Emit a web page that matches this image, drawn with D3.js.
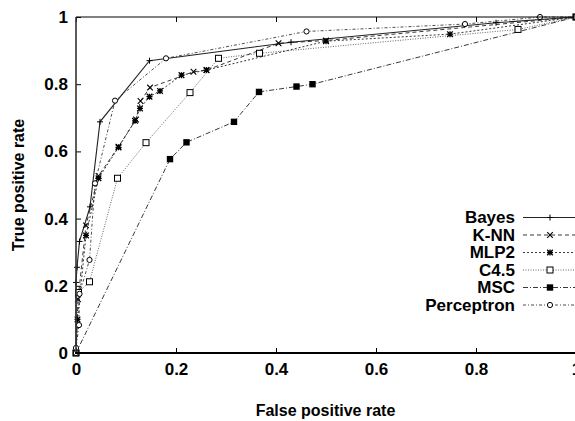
<!DOCTYPE html>
<html>
<head>
<meta charset="utf-8">
<script src="https://cdn.jsdelivr.net/npm/d3@7"></script>
<style>
body { margin: 0; background: #fff; }
svg { display: block; }
text { font-family: "Liberation Sans", Arial, Helvetica, sans-serif; font-weight: bold; fill: #000; }
</style>
</head>
<body>
<script>
// series values [false positive rate, true positive rate]
var bayes = [[0,0],[0,0.21],[0.002,0.255],[0.007,0.332],[0.028,0.435],[0.048,0.688],[0.147,0.87],[0.43,0.925],[0.84,0.983],[1,1]];
var knn = [[0,0],[0.004,0.16],[0.02,0.38],[0.045,0.527],[0.085,0.614],[0.12,0.695],[0.129,0.75],[0.148,0.79],[0.235,0.837],[0.261,0.842],[0.405,0.922],[0.5,0.93],[1,1]];
var mlp2 = [[0,0],[0.003,0.1],[0.02,0.35],[0.045,0.52],[0.085,0.612],[0.118,0.691],[0.128,0.728],[0.147,0.763],[0.168,0.78],[0.211,0.827],[0.261,0.842],[0.5,0.928],[0.748,0.949],[1,1]];
var c45 = [[0,0],[0.005,0.18],[0.027,0.212],[0.083,0.52],[0.14,0.626],[0.228,0.775],[0.285,0.877],[0.367,0.892],[0.884,0.963],[1,1]];
var msc = [[0,0],[0.188,0.577],[0.221,0.627],[0.316,0.688],[0.366,0.777],[0.441,0.793],[0.473,0.8],[1,1]];
var perceptron = [[0,0],[0,0.015],[0.006,0.083],[0.007,0.176],[0.027,0.277],[0.038,0.505],[0.078,0.751],[0.18,0.877],[0.461,0.957],[0.778,0.979],[0.928,1],[1,1]];

var seriesNames = ["Bayes", "K-NN", "MLP2", "C4.5", "MSC", "Perceptron"];
var xTicks = [0, 0.2, 0.4, 0.6, 0.8, 1];
var yTicks = [0, 0.2, 0.4, 0.6, 0.8, 1];

var width = 575, height = 421;
var plotLeft = 76, plotRight = 576, plotTop = 17, plotBottom = 353;

var svg = d3.select("body").append("svg").attr("width", width).attr("height", height);

var x = d3.scaleLinear().domain([0, 1]).range([plotLeft, plotRight]);
var y = d3.scaleLinear().domain([0, 1]).range([plotBottom, plotTop]);

var lineColor = "#222";

//line styles for each series
var styles = [
	{ data: bayes, dash: null, marker: "plus", w: 1.1 },
	{ data: knn, dash: "4,3", marker: "cross", w: 0.9 },
	{ data: mlp2, dash: "2,2", marker: "star", w: 0.9 },
	{ data: c45, dash: "1,1.5", marker: "square", w: 0.7 },
	{ data: msc, dash: "5,2,1,2", marker: "fsquare", w: 0.9 },
	{ data: perceptron, dash: "3,2,1,2", marker: "circle", w: 0.8 }
];

function drawMarker(g, type, px, py) {
	if (type == "plus") {
		g.append("path").attr("d", "M" + (px - 3) + "," + py + "h6M" + px + "," + (py - 3) + "v6")
			.attr("stroke", "#000").attr("stroke-width", 1);
	} else if (type == "cross") {
		g.append("path").attr("d", "M" + (px - 2.8) + "," + (py - 2.8) + "l5.6,5.6M" + (px - 2.8) + "," + (py + 2.8) + "l5.6,-5.6")
			.attr("stroke", "#000").attr("stroke-width", 1.1);
	} else if (type == "star") {
		g.append("path").attr("d", "M" + (px - 2.8) + "," + (py - 2.8) + "l5.6,5.6M" + (px - 2.8) + "," + (py + 2.8) + "l5.6,-5.6M" + (px - 3) + "," + py + "h6M" + px + "," + (py - 3) + "v6")
			.attr("stroke", "#000").attr("stroke-width", 1.3);
	} else if (type == "square") {
		g.append("rect").attr("x", px - 3).attr("y", py - 3).attr("width", 6).attr("height", 6)
			.attr("fill", "#fff").attr("stroke", "#000").attr("stroke-width", 1);
	} else if (type == "fsquare") {
		g.append("rect").attr("x", px - 3.2).attr("y", py - 3.2).attr("width", 6.4).attr("height", 6.4)
			.attr("fill", "#000");
	} else if (type == "circle") {
		g.append("circle").attr("cx", px).attr("cy", py).attr("r", 2.6)
			.attr("fill", "#fff").attr("stroke", "#000").attr("stroke-width", 1);
	}
}

svg.append("clipPath").attr("id", "clip").append("rect")
	.attr("x", plotLeft - 5).attr("y", plotTop - 5).attr("width", width - plotLeft + 5).attr("height", plotBottom - plotTop + 10);

var plot = svg.append("g").attr("clip-path", "url(#clip)");

var line = d3.line().x(function(d) { return x(d[0]); }).y(function(d) { return y(d[1]); });

styles.forEach(function(s) {
	plot.append("path").datum(s.data).attr("d", line)
		.attr("fill", "none").attr("stroke", lineColor).attr("stroke-width", s.w)
		.attr("stroke-dasharray", s.dash);
});
styles.forEach(function(s) {
	s.data.forEach(function(d) {
		drawMarker(plot, s.marker, x(d[0]), y(d[1]));
	});
});

//Axes (gnuplot style, ticks pointing inwards)
var xAxis = d3.axisBottom(x).tickValues(xTicks).tickSize(-5).tickPadding(10).tickFormat(d3.format("~g"));
var gx = svg.append("g").attr("transform", "translate(0," + plotBottom + ")").call(xAxis);
gx.select(".domain").remove();
gx.selectAll("text").style("font-size", "17px");

var yAxis = d3.axisLeft(y).tickValues(yTicks).tickSize(-5).tickPadding(8).tickFormat(d3.format("~g"));
var gy = svg.append("g").attr("transform", "translate(" + plotLeft + ",0)").call(yAxis);
gy.select(".domain").remove();
gy.selectAll("text").style("font-size", "17px");

var topAxis = d3.axisTop(x).tickValues(xTicks).tickSize(-5).tickFormat("");
var gt = svg.append("g").attr("transform", "translate(0," + plotTop + ")").call(topAxis);
gt.select(".domain").remove();

svg.append("line").attr("x1", plotLeft).attr("x2", width).attr("y1", plotTop).attr("y2", plotTop).attr("stroke", "#000").attr("stroke-width", 1);
svg.append("line").attr("x1", plotLeft).attr("x2", plotLeft).attr("y1", plotTop).attr("y2", plotBottom).attr("stroke", "#333").attr("stroke-width", 1.6);
svg.append("line").attr("x1", plotLeft - 1).attr("x2", width).attr("y1", plotBottom).attr("y2", plotBottom).attr("stroke", "#000").attr("stroke-width", 2.2);

//Axis titles
svg.append("text").attr("x", (plotLeft + width) / 2).attr("y", 416).attr("text-anchor", "middle")
	.style("font-size", "16px").text("False positive rate");
svg.append("text").attr("transform", "translate(24," + ((plotTop + plotBottom) / 2) + ") rotate(-90)")
	.attr("text-anchor", "middle").style("font-size", "16px").text("True positive rate");

//Legend
var legendY = 217.5, legendStep = 17.5;
seriesNames.forEach(function(name, i) {
	var ly = legendY + i * legendStep;
	svg.append("text").attr("x", 515).attr("y", ly).attr("dy", "0.35em").attr("text-anchor", "end")
		.style("font-size", "17px").text(name);
	svg.append("line").attr("x1", 523).attr("x2", 578).attr("y1", ly).attr("y2", ly)
		.attr("stroke", lineColor).attr("stroke-width", styles[i].w).attr("stroke-dasharray", styles[i].dash);
	drawMarker(svg, styles[i].marker, 550, ly);
});
</script>
</body>
</html>
